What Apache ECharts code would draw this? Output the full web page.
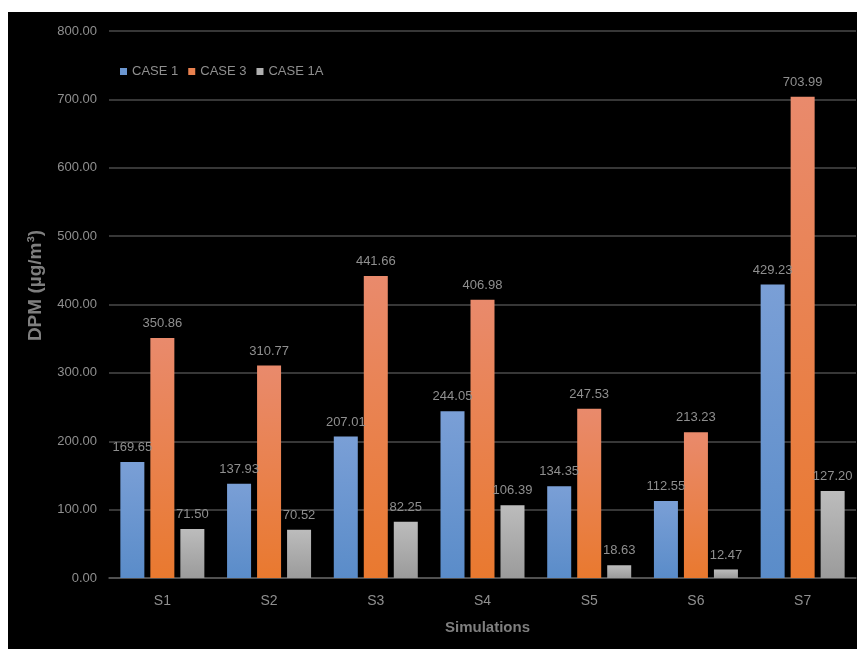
<!DOCTYPE html>
<html>
<head>
<meta charset="utf-8">
<script src="https://cdn.jsdelivr.net/npm/echarts@6/dist/echarts.min.js"></script>
<style>
html,body{margin:0;padding:0;background:#fff;width:857px;height:649px;overflow:hidden;}
#chart{position:absolute;left:8px;top:12px;width:849px;height:637px;background:#000;}
</style>
</head>
<body>
<div id="chart"></div>
<script>
const categories = ['S1','S2','S3','S4','S5','S6','S7'];
const case1 = [169.65, 137.93, 207.01, 244.05, 134.35, 112.55, 429.23];
const case3 = [350.86, 310.77, 441.66, 406.98, 247.53, 213.23, 703.99];
const case1A = [71.50, 70.52, 82.25, 106.39, 18.63, 12.47, 127.20];
const seriesNames = ['CASE 1', 'CASE 3', 'CASE 1A'];

const FONT = "'Liberation Sans Narrow', 'Liberation Sans', Arial, sans-serif";
const txt = '#8f8f8f';
function grad(top, bottom){
  return new echarts.graphic.LinearGradient(0,0,0,1,[{offset:0,color:top},{offset:1,color:bottom}]);
}
const colors = [grad('#7a9fd6','#5a8cc9'), grad('#e98a6c','#e9792f'), grad('#bcbcbc','#9b9b9b')];
const legendColors = ['#6b96d0','#e9814f','#b0b0b0'];
const dataSets = [case1, case3, case1A];

const chart = echarts.init(document.getElementById('chart'), null, {renderer:'canvas'});
chart.setOption({
  backgroundColor: '#000',
  animation: false,
  textStyle: {fontFamily: FONT},
  legend: {
    left: 107, top: 48,
    itemWidth: 7, itemHeight: 7, itemGap: 10,
    icon: 'rect',
    textStyle: {color: txt, fontSize: 13, fontFamily: FONT},
    data: seriesNames.map((n,i)=>({name:n, itemStyle:{color:legendColors[i]}}))
  },
  grid: {left: 101, right: 1, top: 19, bottom: 71, containLabel: false},
  xAxis: {
    type: 'category', data: categories,
    name: 'Simulations', nameLocation: 'middle', nameGap: 42,
    nameTextStyle: {color: '#7f7f7f', fontSize: 15, fontWeight: 'bold', fontFamily: FONT, padding: [0,0,0,10]},
    axisLine: {lineStyle: {color: '#5a5a5a', width: 1.5}},
    axisTick: {show: false},
    axisLabel: {color: txt, fontSize: 14, margin: 16, fontFamily: FONT}
  },
  yAxis: {
    type: 'value', min: 0, max: 800, interval: 100,
    name: 'DPM (µg/m³)', nameLocation: 'middle', nameGap: 64,
    nameTextStyle: {color: '#7f7f7f', fontSize: 19, fontWeight: 'bold', fontFamily: FONT, padding: [0,0,0,38]},
    axisLabel: {color: txt, fontSize: 13, margin: 12, fontFamily: FONT, formatter: v => v.toFixed(2)},
    splitLine: {lineStyle: {color: '#4a4a4a', width: 1.5}},
    axisLine: {show: false}, axisTick: {show: false}
  },
  series: dataSets.map((d,i)=>({
    name: seriesNames[i], type: 'bar', data: d,
    barWidth: 24, barGap: '25%',
    itemStyle: {color: colors[i]},
    label: {show: true, position: 'top', distance: 8, color: txt, fontSize: 13, fontFamily: FONT,
      formatter: p => p.value.toFixed(2)}
  }))
});
</script>
</body>
</html>
